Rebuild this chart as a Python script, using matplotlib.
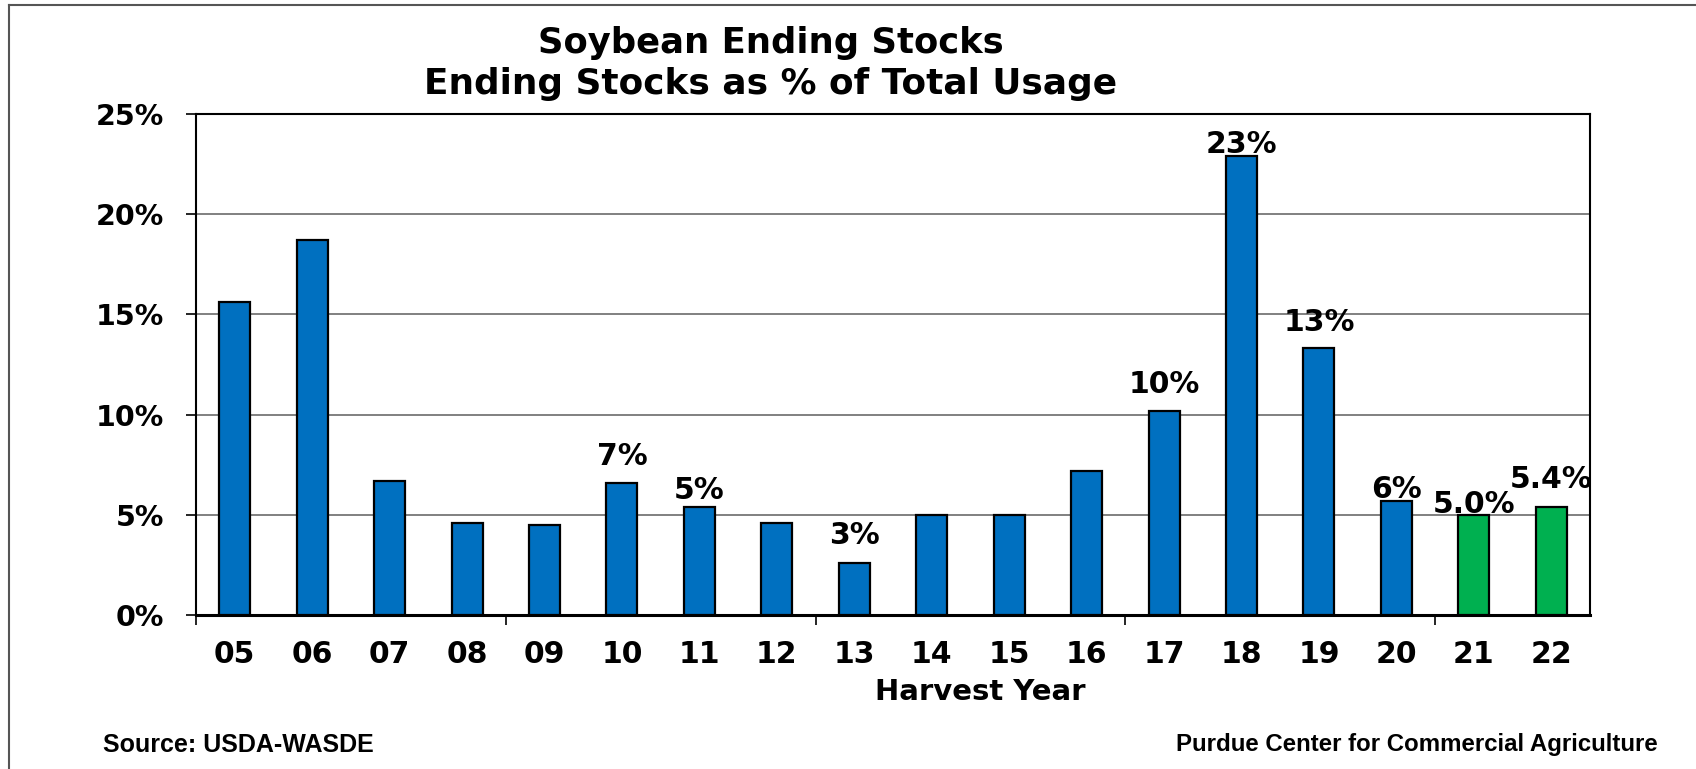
import matplotlib
matplotlib.use("Agg")
import matplotlib.pyplot as plt
from matplotlib.lines import Line2D

# harvest years and ending stocks as % of total usage
years = ["05", "06", "07", "08", "09", "10", "11", "12", "13",
         "14", "15", "16", "17", "18", "19", "20", "21", "22"]
stocks = [15.6, 18.7, 6.7, 4.6, 4.5, 6.6, 5.4, 4.6, 2.6,
          5.0, 5.0, 7.2, 10.2, 22.9, 13.3, 5.7, 5.0, 5.4]
projected = [False] * 16 + [True, True]

# value labels shown above some bars (year -> text)
label_years = ["10", "11", "13", "17", "18", "19", "20", "21", "22"]
label_texts = ["7%", "5%", "3%", "10%", "23%", "13%", "6%", "5.0%", "5.4%"]

yticks = [0, 5, 10, 15, 20, 25]

# label gap above bar top (in % units)
label_gap = [1.3, 0.8, 1.37, 1.29, 0.6, 1.31, 0.57, 0.53, 1.37]

W, H = 1696, 769
fig = plt.figure(figsize=(W / 100, H / 100), dpi=100)
ax = fig.add_axes([196 / W, (H - 615) / H, 1394 / W, 501 / H])

colors = ["#00B050" if p else "#0070C0" for p in projected]
x = list(range(len(years)))
ax.bar(x, stocks, width=0.4, color=colors, edgecolor="black", linewidth=1.6, zorder=3)

ax.set_xlim(-0.5, len(years) - 0.5)
ax.set_ylim(0, 25)
ax.set_yticks(yticks)
ax.set_yticklabels([f"{t}%" for t in yticks])
ax.yaxis.grid(True, color="#808080", linewidth=1.4)
ax.set_axisbelow(True)

ax.set_xticks(x)
ax.set_xticklabels(years)
ax.set_xticks([-0.5, 3.5, 7.5, 11.5, 15.5], minor=True)
ax.tick_params(axis="x", which="major", length=0, pad=18, labelsize=21.5)
ax.tick_params(axis="x", which="minor", length=7, width=1.2, direction="out")
ax.tick_params(axis="y", length=7, width=1.2, pad=16, labelsize=20.5)
for lab in ax.get_xticklabels() + ax.get_yticklabels():
    lab.set_fontweight("bold")

for s in ax.spines.values():
    s.set_linewidth(1.5)
    s.set_color("black")
ax.spines["bottom"].set_linewidth(2.2)

for yr, txt, gap in zip(label_years, label_texts, label_gap):
    i = years.index(yr)
    ax.text(i, stocks[i] + gap, txt, ha="center", va="center",
            fontsize=21.5, fontweight="bold", zorder=5)

fig.text(771 / W, 1 - 43 / H, "Soybean Ending Stocks", ha="center", va="center",
         fontsize=25.5, fontweight="bold")
fig.text(771 / W, 1 - 84 / H, "Ending Stocks as % of Total Usage", ha="center",
         va="center", fontsize=25.8, fontweight="bold")
fig.text(980 / W, 1 - 692 / H, "Harvest Year", ha="center", va="center",
         fontsize=21, fontweight="bold")

fig.text(103 / W, 1 - 745 / H, "Source: USDA-WASDE", ha="left", va="center",
         fontsize=18, fontweight="bold", family="Liberation Sans")
fig.text(1658 / W, 1 - 745 / H, "Purdue Center for Commercial Agriculture",
         ha="right", va="center", fontsize=17.3, fontweight="bold",
         family="Liberation Sans")

# outer frame of the slide
fig.add_artist(Line2D([9 / W, 9 / W], [0, 1 - 5 / H], color="#555555", lw=1.5))
fig.add_artist(Line2D([9 / W, 1], [1 - 5 / H, 1 - 5 / H], color="#555555", lw=1.5))

fig.savefig("out.png", dpi=100)
